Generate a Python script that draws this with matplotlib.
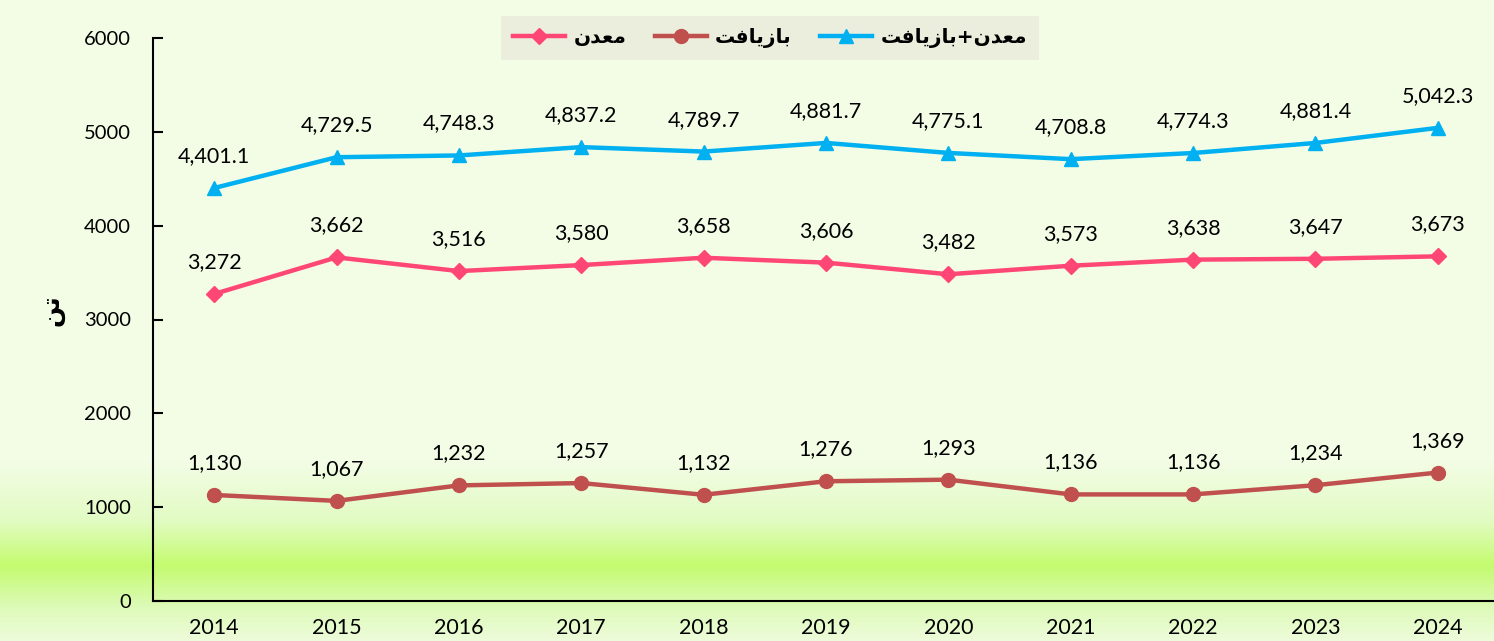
import numpy as np
import matplotlib
matplotlib.use("Agg")
import matplotlib.pyplot as plt
from matplotlib.colors import to_rgb

# data
years = ["2014", "2015", "2016", "2017", "2018", "2019", "2020", "2021", "2022", "2023", "2024"]
mine = [3272, 3662, 3516, 3580, 3658, 3606, 3482, 3573, 3638, 3647, 3673]
recycled = [1130, 1067, 1232, 1257, 1132, 1276, 1293, 1136, 1136, 1234, 1369]
total = [4401.1, 4729.5, 4748.3, 4837.2, 4789.7, 4881.7, 4775.1, 4708.8, 4774.3, 4881.4, 5042.3]

# persian labels in presentation forms, visual order
lbl_mine = "\uFEE5\uFEAA\uFECC\uFEE3"                        # معدن
lbl_rec = "\uFE96\uFED3\uFE8E\uFEF3\uFEAF\uFE8E\uFE91"       # بازیافت
lbl_total = lbl_rec + "+" + lbl_mine                          # معدن+بازیافت
lbl_unit = "\uFEE6\uFE97"                                     # تن

W, H = 1494, 641
fig = plt.figure(figsize=(W / 100, H / 100), dpi=100)
fig.patch.set_facecolor("#f3fde6")

# background gradient (green band near the bottom)
bg = fig.add_axes([0, 0, 1, 1], zorder=0)
stops_y = [0, 460, 520, 565, 605, 641]
stops_c = ["#f3fde6", "#f3fde6", "#e2fbc3", "#c4fb6f", "#dcfab6", "#eefcdc"]
rows = np.arange(H)
rgb = np.array([to_rgb(c) for c in stops_c])
grad = np.stack([np.interp(rows, stops_y, rgb[:, k]) for k in range(3)], axis=1)
bg.imshow(grad[:, None, :], aspect="auto", extent=[0, 1, 0, 1])
bg.axis("off")

ax = fig.add_axes([153 / W, (H - 601) / H, (1499 - 153) / W, (601 - 38) / H], zorder=1)
ax.set_facecolor("none")

x = np.arange(len(years))
ax.plot(x, mine, color="#ff4775", lw=3.2, marker="D", ms=8, label=lbl_mine)
ax.plot(x, recycled, color="#c0504d", lw=3.2, marker="o", ms=10, label=lbl_rec)
ax.plot(x, total, color="#00b0f0", lw=3.2, marker="^", ms=10, label=lbl_total)

fnt = "Lato"
for xi, v in zip(x, mine):
    ax.annotate(f"{v:,}", (xi, v), xytext=(0, 23), textcoords="offset points",
                ha="center", va="center", fontsize=15.5, family=fnt)
for xi, v in zip(x, recycled):
    ax.annotate(f"{v:,}", (xi, v), xytext=(0, 23), textcoords="offset points",
                ha="center", va="center", fontsize=15.5, family=fnt)
for xi, v in zip(x, total):
    ax.annotate(f"{v:,.1f}", (xi, v), xytext=(0, 23), textcoords="offset points",
                ha="center", va="center", fontsize=15.5, family=fnt)

ax.set_xlim(-0.5, 10.5)
ax.set_ylim(0, 6000)
ax.set_yticks(range(0, 6001, 1000))
ax.set_xticks(x)
ax.set_xticklabels(years)
for sp in ["top", "right"]:
    ax.spines[sp].set_visible(False)
ax.spines["left"].set_linewidth(1.5)
ax.spines["bottom"].set_linewidth(1.5)
ax.tick_params(axis="y", direction="in", length=7, width=1.5, pad=16, labelsize=14.5)
ax.tick_params(axis="x", length=0, pad=12, labelsize=15.5)
for t in ax.get_xticklabels() + ax.get_yticklabels():
    t.set_family(fnt)

fig.text(52 / W, (H - 310) / H, lbl_unit, rotation=90, ha="center", va="center",
         fontsize=18, fontweight="bold", family="DejaVu Sans")

leg = ax.legend(loc="center", bbox_to_anchor=(770 / W, (H - 38) / H),
                bbox_transform=fig.transFigure, ncol=3, frameon=True,
                prop={"family": "DejaVu Sans", "weight": "bold", "size": 14.5},
                handlelength=2.6, columnspacing=1.4, handletextpad=0.4,
                borderpad=0.6, fancybox=False)
leg.get_frame().set_facecolor("#ebeedd")
leg.get_frame().set_edgecolor("none")
leg.get_frame().set_alpha(1)

fig.savefig("out.png", dpi=100, facecolor=fig.get_facecolor())
